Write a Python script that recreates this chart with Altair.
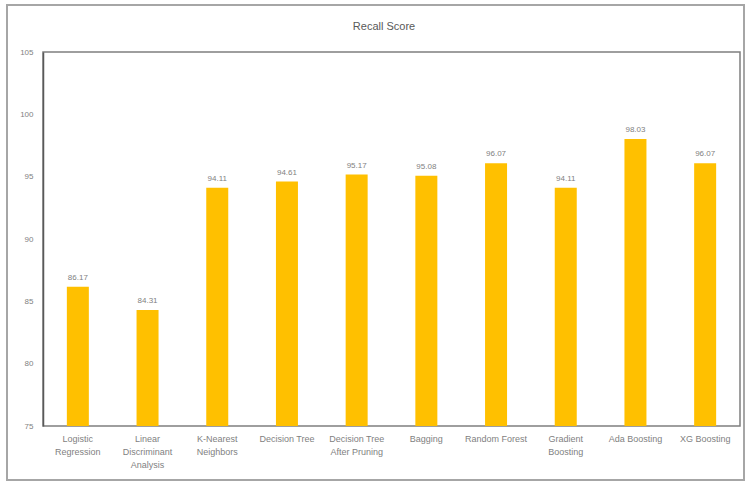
import altair as alt
import pandas as pd

models = ["Logistic|Regression", "Linear|Discriminant|Analysis", "K-Nearest|Neighbors",
          "Decision Tree", "Decision Tree|After Pruning", "Bagging", "Random Forest",
          "Gradient|Boosting", "Ada Boosting", "XG Boosting"]
recall = [86.17, 84.31, 94.11, 94.61, 95.17, 95.08, 96.07, 94.11, 98.03, 96.07]
y_ticks = [75, 80, 85, 90, 95, 100, 105]
title_text = "Recall Score"

df = pd.DataFrame({"model": models, "recall": recall})

W, H = 697, 374

x = alt.X("model:N", sort=None, title=None,
          scale=alt.Scale(paddingInner=0.68, paddingOuter=0.34),
          axis=alt.Axis(labelAngle=0, labelExpr="split(datum.label, '|')",
                        labelFontSize=9, labelColor="#7f7f7f", labelPadding=8,
                        ticks=False, domain=False, labelFont="Liberation Sans",
                        labelLineHeight=13, labelBaseline="top"))
y = alt.Y("recall:Q", title=None,
          scale=alt.Scale(domain=[75, 105], nice=False, zero=False),
          axis=alt.Axis(values=y_ticks, grid=False, ticks=False, labelFontSize=8,
                        labelColor="#7f7f7f", labelPadding=10, domainColor="#595959",
                        domainWidth=1.5, labelFont="Liberation Sans"))

bars = alt.Chart(df).mark_bar(color="#FFC000", size=22, clip=True).encode(x=x, y=y)
labels = alt.Chart(df).mark_text(dy=-9, fontSize=8, color="#7f7f7f",
                                 font="Liberation Sans").encode(
    x=alt.X("model:N", sort=None), y="recall:Q", text=alt.Text("recall:Q", format=".2f"))

frame = alt.Chart(df).mark_rect(fill=None, stroke="#a6a6a6", strokeWidth=1.5).encode(
    x=alt.value(-36), x2=alt.value(701), y=alt.value(-47), y2=alt.value(428))

title = alt.Chart(pd.DataFrame({"t": [title_text]})).mark_text(
    fontSize=11, color="#595959", font="Liberation Sans").encode(
    x=alt.value(341), y=alt.value(-25), text="t:N")

chart = alt.layer(frame, bars, labels, title).properties(
    width=W, height=H,
    autosize=alt.AutoSizeParams(type="none"),
    padding={"left": 43, "top": 52, "right": 6, "bottom": 56},
).configure_view(stroke="#7f7f7f", strokeWidth=1.5)

chart.save("out.html", embed_options={"renderer": "svg", "actions": False})
